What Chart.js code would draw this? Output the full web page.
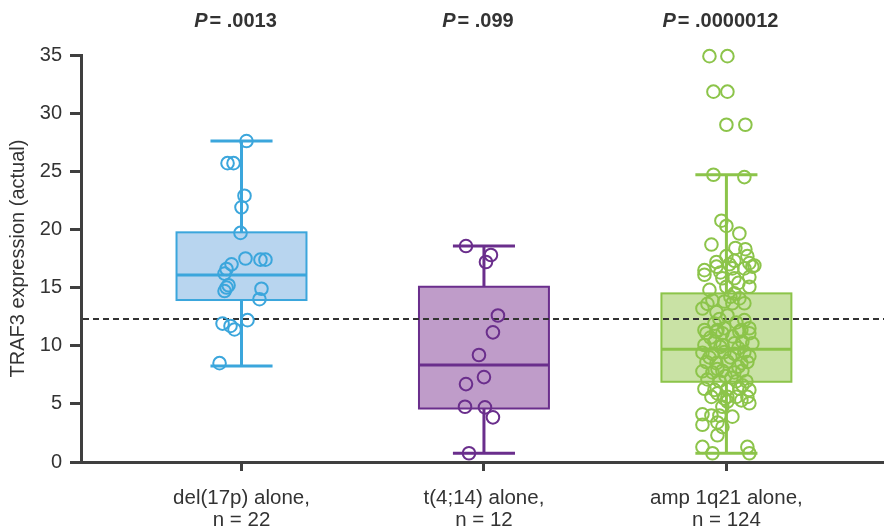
<!DOCTYPE html>
<html>
<head>
<meta charset="utf-8">
<script src="https://cdn.jsdelivr.net/npm/chart.js@4/dist/chart.umd.min.js"></script>
<style>
  html, body { margin: 0; padding: 0; background: #ffffff; overflow: hidden; }
  #wrap { width: 884px; height: 526px; overflow: hidden; }
  canvas { display: block; }
</style>
</head>
<body>
<div id="wrap"><canvas id="c" width="884" height="526"></canvas></div>
<script>
// ---------------- DATA ----------------
const categories = [
  ['del(17p) alone,', 'n = 22'],
  ['t(4;14) alone,', 'n = 12'],
  ['amp 1q21 alone,', 'n = 124']
];
const pValues = ['.0013', '.099', '.0000012'];
const yTitle = 'TRAF3 expression (actual)';
const referenceLine = 12.3;

// box statistics: [whiskerLow, q1, median, q3, whiskerHigh]
const delBox = [8.25, 13.93, 16.08, 19.75, 27.6];
const t414Box = [0.75, 4.6, 8.34, 15.07, 18.57];
const ampBox = [0.75, 6.9, 9.7, 14.5, 24.7];

// individual values with horizontal jitter (jitter steps; 1 step = 1/243 category)
const delValues = [27.6, 25.7, 25.7, 22.9, 21.9, 19.7, 17.5, 17.4, 17.4, 17.0, 16.6, 16.2, 15.2, 15.0, 14.7, 14.9, 14.0, 12.2, 11.9, 11.7, 11.4, 8.5];
const delJitter = [5, -14, -8, 3, 0, -1, 4, 19, 24, -10, -15, -17, -13, -15, -17, 20, 18, 6, -19, -11, -7, -22];

const t414Values = [18.57, 17.8, 17.2, 12.6, 11.15, 9.2, 7.3, 6.7, 4.75, 4.7, 3.84, 0.75];
const t414Jitter = [-18, 7, 2, 14, 9, -5, 0, -18, -19, 1, 9, -15];

const ampValues = [
  34.9, 34.9, 31.85, 31.85, 29.0, 29.0, 24.7, 24.5,
  20.75, 20.3, 19.65, 18.7, 18.4, 18.3, 17.7, 17.7, 17.2, 17.3, 17.1, 16.9, 16.5,
  16.1, 16.8, 16.65, 16.65, 16.8, 15.8, 15.8, 15.9, 15.07, 15.07, 14.5, 14.07, 13.9, 13.6,
  13.8, 13.65, 13.65, 13.2, 12.9, 12.6, 12.2, 11.9, 11.5, 11.35, 11.35, 11.5, 11.35,
  11.07, 11.2, 11.07, 11.2, 11.07, 10.06, 10.35, 10.06, 10.2, 10.35, 10.2,
  9.4, 9.3, 9.45, 9.3, 9.45, 9.1, 8.6, 8.5, 8.65, 8.5, 8.6,
  7.8, 7.7, 7.85, 7.7, 7.85, 7.1, 6.95, 7.25, 6.95, 6.95,
  6.3, 6.2, 6.3, 6.3, 6.2, 5.6, 5.6, 5.6, 5.6,
  5.45, 5.3, 5.05, 5.2, 4.75, 4.1, 4.0, 4.0, 3.9, 3.2, 3.4, 3.0, 2.3, 1.3, 0.75, 1.3, 0.75,
  17.0, 16.3, 15.4, 14.8, 14.2, 12.3, 12.0, 10.7, 10.8, 9.9, 9.8, 9.0, 9.0, 8.0, 8.2, 7.4, 6.6, 5.9
];
const ampJitter = [
  -17, 1, -13, 1, 0, 19, -13, 18,
  -5, 0, 13, -15, 9, 19, 0, 21, -10, 8, 23, 28, -22,
  -22, -10, 6, 18, 26, -4, 8, 23, 0, 23, 8, 13, -14, -19,
  -2, 6, 18, -24, -10, 1, 18, -12, -2, -9, 15, 23, -22,
  -20, -10, -4, 13, 23, -22, -12, -4, 8, 16, 26,
  -24, -14, -2, 8, 18, 23, -20, -10, 1, 15, 21,
  -24, -14, -4, 8, 16, -19, -7, 5, 10, 20,
  -22, -12, 1, 13, 23, -15, 1, 10, 21,
  -2, 15, 23, 1, -4, -24, -15, -7, 6, -24, -9, -4, -9, -24, -14, 21, 23,
  3, -6, 12, -17, 4, -7, 10, -16, 6, -6, 12, -17, 4, -9, 12, -1, 16, -9
];

// ---------------- STYLE ----------------
const JITTER_STEP = 1 / 243;
const BOX_HALF = 0.268;
const CAP_HALF = 0.128;
const strokeColors = ['#3ba6dc', '#6a2e8c', '#8cc44a'];
const fillColors = ['#b8d5ef', '#bf9cc9', '#c9e2a5'];
const axisColor = '#3f3f3f';
const textColor = '#333333';
const FONT = "'Liberation Sans', Arial, Helvetica, sans-serif";

const boxes = [delBox, t414Box, ampBox];
const groups = [
  [delValues, delJitter],
  [t414Values, t414Jitter],
  [ampValues, ampJitter]
];

const datasets = groups.map(([vals, jit], gi) => ({
  type: 'scatter',
  data: vals.map((v, i) => ({ x: gi + 1 + jit[i] * JITTER_STEP, y: v })),
  pointRadius: 6.3,
  pointHoverRadius: 6.3,
  pointBorderWidth: 2,
  borderColor: strokeColors[gi],
  backgroundColor: 'rgba(0,0,0,0)',
  clip: false
}));

const boxPlugin = {
  id: 'boxPlugin',
  beforeDatasetsDraw(chart) {
    const { ctx, scales: { x, y }, chartArea } = chart;
    ctx.save();
    boxes.forEach((b, gi) => {
      const c = gi + 1;
      const xc = x.getPixelForValue(c);
      const xl = x.getPixelForValue(c - BOX_HALF);
      const xr = x.getPixelForValue(c + BOX_HALF);
      const cl = x.getPixelForValue(c - CAP_HALF);
      const cr = x.getPixelForValue(c + CAP_HALF);
      const [wl, q1, med, q3, wh] = b.map(v => y.getPixelForValue(v));
      ctx.fillStyle = fillColors[gi];
      ctx.fillRect(xl, q3, xr - xl, q1 - q3);
      ctx.strokeStyle = strokeColors[gi];
      ctx.lineWidth = 2;
      ctx.strokeRect(xl, q3, xr - xl, q1 - q3);
      ctx.lineWidth = 3;
      ctx.beginPath();
      ctx.moveTo(xc, q3); ctx.lineTo(xc, wh);
      ctx.moveTo(xc, q1); ctx.lineTo(xc, wl);
      ctx.moveTo(cl, wh); ctx.lineTo(cr, wh);
      ctx.moveTo(cl, wl); ctx.lineTo(cr, wl);
      ctx.stroke();
      ctx.lineWidth = 3;
      ctx.beginPath();
      ctx.moveTo(xl, med); ctx.lineTo(xr, med);
      ctx.stroke();
    });
    const yr = y.getPixelForValue(referenceLine);
    ctx.strokeStyle = '#333333';
    ctx.lineWidth = 2;
    ctx.setLineDash([6, 4]);
    ctx.beginPath();
    ctx.moveTo(chartArea.left + 2, yr);
    ctx.lineTo(chartArea.right, yr);
    ctx.stroke();
    ctx.setLineDash([]);
    ctx.restore();
  },
  afterDraw(chart) {
    const { ctx, scales: { x } } = chart;
    ctx.save();
    ctx.fillStyle = textColor;
    ctx.textBaseline = 'middle';
    pValues.forEach((p, gi) => {
      const xc = x.getPixelForValue(gi + 1) - 6;
      const f1 = "italic bold 20px " + FONT;
      const f2 = "bold 20px " + FONT;
      ctx.font = f1;
      const w1 = ctx.measureText('P').width;
      ctx.font = f2;
      const rest = '= ' + p;
      const w2 = ctx.measureText(rest).width;
      const gap = 2;
      const start = xc - (w1 + gap + w2) / 2;
      ctx.textAlign = 'left';
      ctx.font = f1;
      ctx.fillText('P', start, 21);
      ctx.font = f2;
      ctx.fillText(rest, start + w1 + gap, 21);
    });
    ctx.restore();
  }
};

new Chart(document.getElementById('c'), {
  data: { datasets },
  plugins: [boxPlugin],
  options: {
    responsive: false,
    animation: false,
    devicePixelRatio: 1,
    layout: { autoPadding: false, padding: { top: 55, right: 0, left: 0, bottom: 0 } },
    plugins: { legend: { display: false }, tooltip: { enabled: false } },
    events: [],
    scales: {
      x: {
        type: 'linear',
        min: 0.338,
        max: 3.65,
        afterBuildTicks: s => { s.ticks = [1, 2, 3].map(v => ({ value: v })); },
        afterFit: s => { s.height = 64; s.paddingLeft = 0; s.paddingRight = 0; },
        ticks: {
          callback: v => categories[Math.round(v) - 1],
          font: { family: FONT, size: 20.5, lineHeight: 1.1 },
          color: textColor,
          padding: 16,
          autoSkip: false,
          maxRotation: 0
        },
        grid: { drawOnChartArea: false, drawTicks: true, tickLength: 9, tickWidth: 3, tickColor: axisColor, color: axisColor },
        border: { display: true, color: axisColor, width: 3 }
      },
      y: {
        type: 'linear',
        min: 0,
        max: 35,
        afterFit: s => { s.width = 81; },
        ticks: {
          stepSize: 5,
          font: { family: FONT, size: 20 },
          color: textColor,
          padding: 8
        },
        grid: { drawOnChartArea: false, drawTicks: true, tickLength: 11, tickWidth: 3, tickColor: axisColor, color: axisColor },
        border: { display: true, color: axisColor, width: 3 },
        title: {
          display: true,
          text: yTitle,
          font: { family: FONT, size: 20 },
          color: textColor,
          padding: { top: 6, bottom: 0 }
        }
      }
    }
  }
});
</script>
</body>
</html>
